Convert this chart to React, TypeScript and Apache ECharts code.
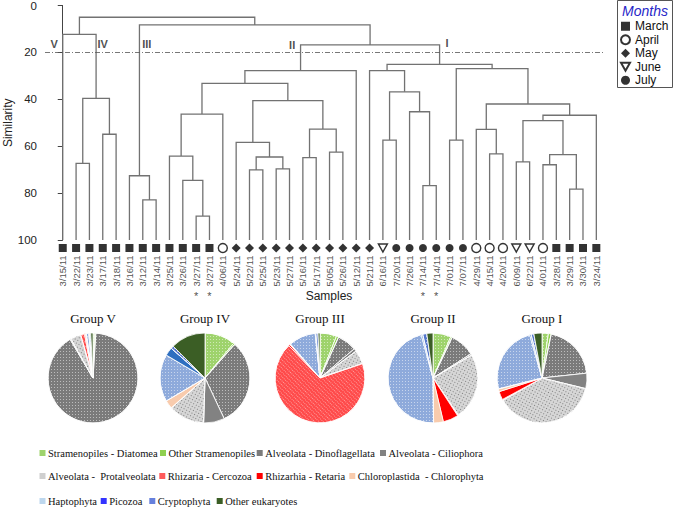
import React, { useEffect, useRef } from 'react';
import * as echarts from 'echarts';

// ---------------- DATA ----------------
const sampleDates = [
  '3/15/11', '3/22/11', '3/23/11', '3/17/11', '3/18/11', '3/16/11', '3/12/11', '3/14/11',
  '3/25/11', '3/26/11', '3/27/11', '3/27/11', '4/06/11', '5/24/11', '5/22/11', '5/25/11',
  '5/23/11', '5/27/11', '5/16/11', '5/17/11', '5/05/11', '5/26/11', '5/12/11', '5/21/11',
  '6/16/11', '7/20/11', '7/26/11', '7/14/11', '7/14/11', '7/01/11', '7/07/11', '4/29/11',
  '4/15/11', '4/20/11', '6/09/11', '6/22/11', '4/01/11', '3/28/11', '3/29/11', '3/30/11',
  '3/24/11',
];
const starredSamples = [10, 11, 27, 28];

// linkage: [left node, right node, similarity]; ids >= 41 refer to earlier merges (41 + row)
const merges: [number, number, number][] = [
  [1, 2, 67.3], [3, 4, 54.9], [41, 42, 39.6], [0, 43, 12.3],
  [6, 7, 82.9], [5, 45, 72.6],
  [10, 11, 89.8], [9, 47, 74.6], [8, 48, 64.2], [49, 12, 46.3],
  [14, 15, 70.1], [16, 17, 69.7], [51, 52, 64.6], [13, 53, 58.4],
  [18, 19, 64.9], [20, 21, 62.5], [55, 56, 52.7], [54, 57, 40.6],
  [50, 58, 33.2], [59, 22, 27.8],
  [24, 25, 57.4], [27, 28, 76.8], [26, 62, 45.3], [61, 63, 36.8], [23, 64, 27.8],
  [29, 30, 57.4], [32, 33, 63.3], [31, 67, 52.8], [34, 35, 66.7], [36, 37, 67.9],
  [38, 39, 78.3], [70, 71, 63.6], [69, 72, 49.1], [73, 40, 46.8], [68, 74, 42.0],
  [66, 75, 26.9], [65, 76, 25.1],
  [60, 77, 16.8], [46, 78, 8.3], [44, 79, 5.0],
];

const monthNames = ['March', 'April', 'May', 'June', 'July'];
const monthNumbers = [3, 4, 5, 6, 7];
const similarityTicks = [0, 20, 40, 60, 80, 100];
const cutSimilarity = 20;
const clusterLabels = ['V', 'IV', 'III', 'II', 'I'];

const taxa = [
  'Stramenopiles - Diatomea', 'Other Stramenopiles', 'Alveolata - Dinoflagellata', 'Alveolata - Ciliophora',
  'Alveolata -  Protalveolata', 'Rhizaria - Cercozoa', 'Rhizarhia - Retaria', 'Chloroplastida  - Chlorophyta',
  'Haptophyta', 'Picozoa', 'Cryptophyta', 'Other eukaryotes',
];
const groupNames = ['Group V', 'Group IV', 'Group III', 'Group II', 'Group I'];
const groupV = [0.6, 0.4, 90.5, 0.3, 3.8, 1.4, 0.3, 0.3, 0.9, 0.2, 0.5, 0.8];
const groupIV = [11, 0.5, 31.5, 7.5, 13, 0, 0, 3, 17, 3, 1, 12.5];
const groupIII = [6, 0.8, 7, 1, 5, 68, 0.5, 0.3, 9.7, 0.2, 0.8, 0.7];
const groupII = [6.5, 0.5, 9, 0.5, 24, 0.3, 5.5, 3.5, 46, 0.5, 1.5, 2.2];
const groupI = [2.3, 1, 20, 5.5, 38, 0.3, 3, 1, 24.5, 0.5, 1, 2.9];
const groupValues = [groupV, groupIV, groupIII, groupII, groupI];

// ---------------- LAYOUT / STYLE ----------------
const pieCentersX = [93, 205, 320, 433, 542];
const pieCenterY = 378;
const pieTitleTop = 312;
const clusterLabelPos: [number, number][] = [[-0.65, 16.4], [3.0, 16.4], [6.3, 16.4], [17.2, 16.8], [28.8, 16.2]];

const pieColors = ['#9ed36c', '#8fd04f', '#7b7b7b', '#828282', '#d6d6d6', '#ff4a4a', '#ff0000', '#f8cbad', '#8eaadb', '#2e6fc0', '#5577cc', '#3b5e25'];
const swatchColors = ['#9ed36c', '#8fd04f', '#7b7b7b', '#828282', '#cfcfcf', '#ff5a5a', '#ff0000', '#f8cbad', '#bdd7ee', '#3333ff', '#6680dd', '#3b5e25'];
const whiteDots = { symbol: 'rect', symbolSize: 1, dashArrayX: [1, 2], dashArrayY: [1, 2], color: 'rgba(255,255,255,0.5)' };
const pieDecals: any[] = [
  whiteDots, null, whiteDots, null,
  { symbol: 'rect', symbolSize: 1, dashArrayX: [1, 2], dashArrayY: [1, 2], rotation: 0.5, color: 'rgba(90,90,90,0.7)' },
  { symbol: 'rect', symbolSize: 1, dashArrayX: [1, 1], dashArrayY: [1, 2], rotation: 0.78, color: 'rgba(255,255,255,0.45)' },
  null, null, whiteDots, null, whiteDots, null,
];
const legendRowsY = [453, 476, 501];
const legendItems: [number, number, number][] = [
  // [taxon index, row, swatch x]
  [0, 0, 39.5], [1, 0, 160], [2, 0, 256.7], [3, 0, 380],
  [4, 1, 39.5], [5, 1, 159.3], [6, 1, 256.7], [7, 1, 349.3],
  [8, 2, 39.5], [9, 2, 100.7], [10, 2, 149.3], [11, 2, 216.7],
];

const monthSymbols: any[] = ['rect', 'circle', 'diamond', 'path://M0,0 L10,0 L5,9 Z', 'circle'];
const monthSizes: any[] = [8, 9, 9, [9, 8], 8];
const monthItemStyles = [
  { color: '#000' },
  { color: '#fff', borderColor: '#000', borderWidth: 1.4 },
  { color: '#000' },
  { color: '#fff', borderColor: '#000', borderWidth: 1.4 },
  { color: '#000' },
];

function buildOption() {
  const nodeX: number[] = sampleDates.map((_, i) => i);
  const nodeH: number[] = sampleDates.map(() => 100);
  const segments = merges.map(([a, b, s]) => {
    const seg = [nodeX[a], nodeX[b], s, nodeH[a], nodeH[b]];
    nodeX.push((nodeX[a] + nodeX[b]) / 2);
    nodeH.push(s);
    return seg;
  });

  const monthOf = (d: string) => parseInt(d.split('/')[0], 10);

  const monthSeries = monthNames.map((m, k) => ({
    type: 'scatter',
    name: m,
    data: sampleDates.map((d, i) => (monthOf(d) === monthNumbers[k] ? [i, 100] : null)).filter(Boolean),
    symbol: monthSymbols[k],
    symbolSize: monthSizes[k],
    symbolOffset: [0, 8],
    itemStyle: monthItemStyles[k],
    silent: true,
    clip: false,
    z: 5,
  }));

  const series: any[] = [
    {
      type: 'custom',
      data: segments,
      encode: { x: [0, 1], y: [2, 3, 4] },
      clip: false,
      silent: true,
      renderItem: (params: any, api: any) => {
        const p1 = api.coord([api.value(0), api.value(3)]);
        const p2 = api.coord([api.value(0), api.value(2)]);
        const p3 = api.coord([api.value(1), api.value(2)]);
        const p4 = api.coord([api.value(1), api.value(4)]);
        return {
          type: 'polyline',
          shape: { points: [p1, p2, p3, p4] },
          style: { stroke: '#727272', lineWidth: 1.3, fill: null },
        };
      },
    },
    ...monthSeries,
    {
      type: 'scatter',
      data: sampleDates.map((d, i) => ({ name: d, value: [i, 100] })),
      symbolSize: 1,
      itemStyle: { color: 'transparent' },
      silent: true,
      clip: false,
      label: {
        show: true,
        formatter: '{b}',
        position: 'bottom',
        distance: 15,
        rotate: 90,
        align: 'right',
        verticalAlign: 'middle',
        fontSize: 9.5,
        fontFamily: 'Liberation Sans, Arial',
        color: '#222',
      },
      markLine: {
        silent: true,
        symbol: 'none',
        label: { show: false },
        lineStyle: { type: [5, 2, 1, 2], color: '#555', width: 0.8 },
        data: [{ yAxis: cutSimilarity }],
      },
    },
    {
      type: 'scatter',
      data: starredSamples.map((i) => ({ name: '*', value: [i, 100] })),
      symbolSize: 1,
      itemStyle: { color: 'transparent' },
      silent: true,
      clip: false,
      label: {
        show: true,
        formatter: '{b}',
        position: 'bottom',
        distance: 50,
        fontSize: 11,
        fontFamily: 'Liberation Sans, Arial',
        color: '#222',
      },
    },
    {
      type: 'scatter',
      data: clusterLabels.map((c, k) => ({ name: c, value: clusterLabelPos[k] })),
      symbolSize: 1,
      itemStyle: { color: 'transparent' },
      silent: true,
      clip: false,
      label: {
        show: true,
        formatter: '{b}',
        position: 'inside',
        fontSize: 11,
        fontWeight: 'bold',
        fontFamily: 'Liberation Sans, Arial',
        color: '#222',
      },
    },
  ];

  groupValues.forEach((vals, g) => {
    series.push({
      type: 'pie',
      name: groupNames[g],
      radius: 45,
      center: [pieCentersX[g], pieCenterY],
      startAngle: 90,
      clockwise: true,
      silent: true,
      label: { show: false },
      labelLine: { show: false },
      itemStyle: { borderColor: '#fff', borderWidth: 0.8 },
      data: taxa.map((t, i) => ({
        name: t,
        value: vals[i],
        itemStyle: pieDecals[i] ? { color: pieColors[i], decal: pieDecals[i] } : { color: pieColors[i] },
      })),
    });
  });

  const legendGraphics: any[] = [];
  legendItems.forEach(([ti, row, sx]) => {
    const y = legendRowsY[row];
    legendGraphics.push({
      type: 'rect',
      shape: { x: sx, y: y - 3, width: 6, height: 6 },
      style: { fill: swatchColors[ti] },
      silent: true,
    });
    legendGraphics.push({
      type: 'text',
      x: sx + 8.5,
      y,
      style: {
        text: taxa[ti],
        font: '10.5px "Liberation Serif", "Times New Roman", serif',
        fill: '#111',
        textVerticalAlign: 'middle',
        verticalAlign: 'middle',
      },
      silent: true,
    });
  });

  return {
    animation: false,
    backgroundColor: '#fff',
    title: groupNames.map((gname, g) => ({
      text: gname,
      left: pieCentersX[g],
      top: pieTitleTop,
      textAlign: 'center',
      padding: 0,
      textStyle: { fontFamily: 'Liberation Serif, Times New Roman, serif', fontSize: 13, fontWeight: 'normal', color: '#111' },
    })),
    grid: { left: 45, top: 5.5, width: 558, height: 234.5, containLabel: false, outerBoundsMode: 'none' },
    xAxis: {
      type: 'value',
      min: -1.33,
      max: 40.5,
      show: false,
    },
    yAxis: {
      type: 'value',
      inverse: true,
      min: similarityTicks[0],
      max: similarityTicks[similarityTicks.length - 1],
      interval: 20,
      name: 'Similarity',
      nameLocation: 'middle',
      nameGap: 31,
      nameMoveOverlap: false,
      nameTextStyle: { fontSize: 12, fontFamily: 'Liberation Sans, Arial', color: '#222' },
      axisLine: { show: true, lineStyle: { color: '#444', width: 1 } },
      axisTick: { show: true, length: 5, lineStyle: { color: '#444' } },
      axisLabel: { fontSize: 11.5, margin: 8, color: '#222', fontFamily: 'Liberation Sans, Arial' },
      splitLine: { show: false },
    },
    legend: {
      data: monthNames,
      orient: 'vertical',
      left: 620,
      top: 19.5,
      padding: 0,
      itemGap: 0,
      itemWidth: 9,
      itemHeight: 9,
      selectedMode: false,
      textStyle: { fontSize: 12, lineHeight: 13.5, color: '#111', fontFamily: 'Liberation Sans, Arial' },
    },
    graphic: [
      {
        type: 'rect',
        shape: { x: 617.5, y: 0.5, width: 55, height: 87 },
        style: { fill: 'none', stroke: '#555', lineWidth: 1 },
        silent: true,
      },
      {
        type: 'text',
        x: 645,
        y: 11,
        style: {
          text: 'Months',
          font: 'italic 14px "Liberation Sans", Arial, sans-serif',
          fill: '#2727c8',
          textAlign: 'center',
          align: 'center',
          verticalAlign: 'middle',
          textVerticalAlign: 'middle',
        },
        silent: true,
      },
      {
        type: 'text',
        x: 329,
        y: 296,
        style: {
          text: 'Samples',
          font: '12px "Liberation Sans", Arial, sans-serif',
          fill: '#222',
          align: 'center',
          textAlign: 'center',
          verticalAlign: 'middle',
          textVerticalAlign: 'middle',
        },
        silent: true,
      },
      ...legendGraphics,
    ],
    series,
  };
}

export default function App() {
  const ref = useRef<HTMLDivElement>(null);
  useEffect(() => {
    document.body.style.margin = '0';
    if (!ref.current) return;
    const chart = echarts.init(ref.current, undefined, { renderer: 'svg' });
    chart.setOption(buildOption() as any);
    return () => chart.dispose();
  }, []);
  return <div ref={ref} style={{ width: 675, height: 510 }} />;
}
